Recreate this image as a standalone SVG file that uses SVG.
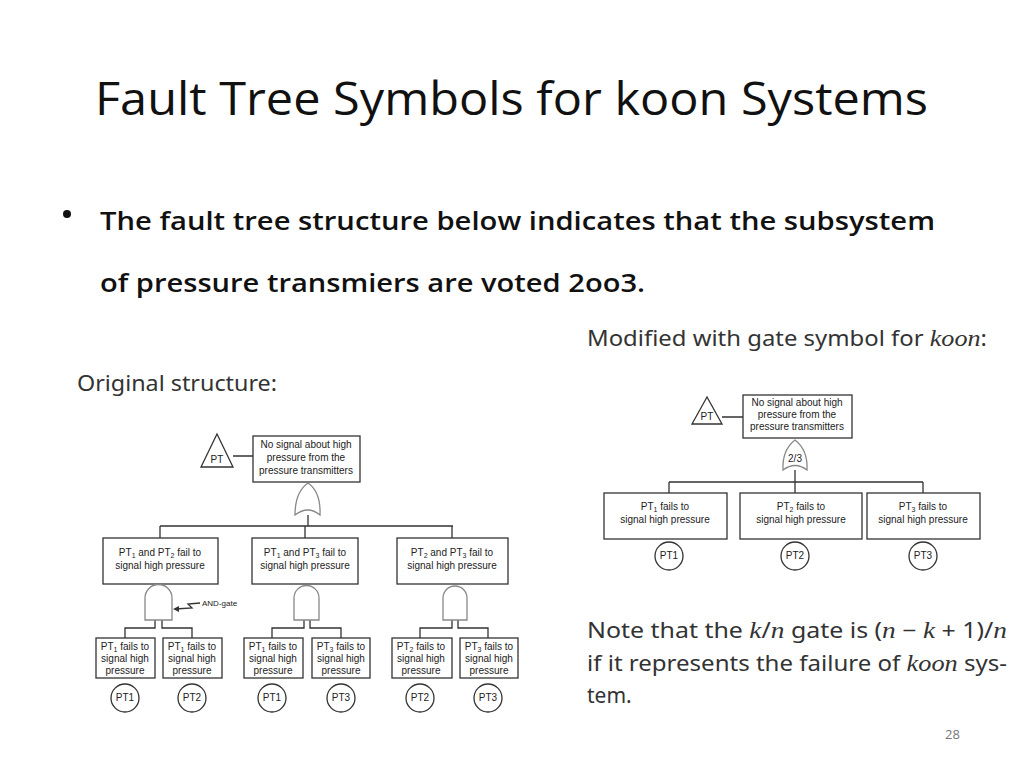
<svg xmlns="http://www.w3.org/2000/svg" width="1024" height="768" viewBox="0 0 1024 768">
<defs>
<style>
.b{fill:#fff;stroke:#333;stroke-width:1.3}
.g{fill:#fff;stroke:#888;stroke-width:1.3}
.l{fill:none;stroke:#333;stroke-width:1.3}
.t{font-family:"Liberation Sans",Arial,sans-serif;font-size:10px;fill:#222;text-anchor:middle}
.s{font-size:7px}
.m{font-family:"Noto Sans","Open Sans",sans-serif;font-size:21px;fill:#333}
.i{font-family:"Liberation Serif",serif;font-style:italic;font-size:23px}
</style>
</defs>
<rect width="1024" height="768" fill="#fff"/>
<text x="95" y="115" font-family="'Open Sans','Noto Sans',sans-serif" font-size="46" fill="#111" textLength="833" lengthAdjust="spacingAndGlyphs">Fault Tree Symbols for koon Systems</text>
<circle cx="67" cy="214" r="4" fill="#111"/>
<g font-family="'Open Sans','Noto Sans',sans-serif" font-size="25" font-weight="600" fill="#111">
<text x="100" y="230" textLength="835" lengthAdjust="spacingAndGlyphs">The fault tree structure below indicates that the subsystem</text>
<text x="100" y="292" textLength="545" lengthAdjust="spacingAndGlyphs">of pressure transmiers are voted 2oo3.</text>
</g>
<text class="m" x="77" y="391" textLength="200" lengthAdjust="spacingAndGlyphs">Original structure:</text>
<text class="m" x="587" y="346" textLength="400" lengthAdjust="spacingAndGlyphs">Modified with gate symbol for <tspan class="i">koon</tspan>:</text>
<text class="m" x="587" y="638" textLength="420" lengthAdjust="spacingAndGlyphs">Note that the <tspan class="i">k</tspan>/<tspan class="i">n</tspan> gate is (<tspan class="i">n</tspan> − <tspan class="i">k</tspan> + 1)/<tspan class="i">n</tspan></text>
<text class="m" x="587" y="671" textLength="420" lengthAdjust="spacingAndGlyphs">if it represents the failure of <tspan class="i">koon</tspan> sys-</text>
<text class="m" x="587" y="703">tem.</text>
<text x="945" y="739" font-family="'Open Sans',sans-serif" font-size="13" fill="#777">28</text>

<g id="connectors">
<path class="l" d="M233 456H253 M308 515V526 M160 526H453 M160 526V538 M305 526V538 M452 526V538"/>
<path class="l" d="M155 620V628H125V638 M162 620V628H192V638"/>
<path class="l" d="M304 620V628H272V638 M310 620V628H341V638"/>
<path class="l" d="M452 620V628H420V638 M458 620V628H488V638"/>
<path class="l" d="M722 417H743 M795 470V482 M669 482H923 M669 482V493 M795 482V493 M923 482V493"/>
<path class="l" d="M200 603L188 604L192 608L175 609" stroke-width="0.9"/>
<path d="M173 609L179 606L179 612Z" fill="#333"/>
</g>

<g id="left-top">
<path class="b" d="M217 434L233 467H201Z"/><text class="t" x="217" y="463" font-size="9">PT</text>
<rect class="b" x="253" y="436" width="107" height="46"/>
<text class="t" x="306" y="448">No signal about high</text>
<text class="t" x="306" y="461">pressure from the</text>
<text class="t" x="306" y="474">pressure transmitters</text>
</g>
<g id="or-gate"><path class="g" d="M295 515Q295 492 308 483Q321 492 320 515Q308 505 295 515Z"/></g>
<g id="mid1"><rect class="b" x="103" y="538" width="115" height="46"/>
<text class="t" x="160" y="556">PT<tspan class="s" dy="2">1</tspan><tspan dy="-2"> and PT</tspan><tspan class="s" dy="2">2</tspan><tspan dy="-2"> fail to</tspan></text>
<text class="t" x="160" y="569">signal high pressure</text></g>
<g id="mid2"><rect class="b" x="252" y="538" width="106" height="46"/>
<text class="t" x="305" y="556">PT<tspan class="s" dy="2">1</tspan><tspan dy="-2"> and PT</tspan><tspan class="s" dy="2">3</tspan><tspan dy="-2"> fail to</tspan></text>
<text class="t" x="305" y="569">signal high pressure</text></g>
<g id="mid3"><rect class="b" x="397" y="538" width="111" height="46"/>
<text class="t" x="452" y="556">PT<tspan class="s" dy="2">2</tspan><tspan dy="-2"> and PT</tspan><tspan class="s" dy="2">3</tspan><tspan dy="-2"> fail to</tspan></text>
<text class="t" x="452" y="569">signal high pressure</text></g>
<g id="and-gates">
<path class="g" d="M145 620V598A13.5 13.5 0 0 1 172 598V620Z"/>
<path class="g" d="M294 620V598A12.5 12.5 0 0 1 319 598V620Z"/>
<path class="g" d="M443 620V598A12 12 0 0 1 467 598V620Z"/>
<text x="202" y="606" font-family="'Liberation Sans',sans-serif" font-size="8" fill="#222">AND-gate</text>
</g>
<g id="leaves" class="t">
<rect class="b" x="96" y="638" width="59" height="40"/><text x="125" y="650">PT<tspan class="s" dy="2">1</tspan><tspan dy="-2"> fails to</tspan></text><text x="125" y="662">signal high</text><text x="125" y="674">pressure</text>
<rect class="b" x="163" y="638" width="59" height="40"/><text x="192" y="650">PT<tspan class="s" dy="2">1</tspan><tspan dy="-2"> fails to</tspan></text><text x="192" y="662">signal high</text><text x="192" y="674">pressure</text>
<rect class="b" x="244" y="638" width="59" height="40"/><text x="273" y="650">PT<tspan class="s" dy="2">1</tspan><tspan dy="-2"> fails to</tspan></text><text x="273" y="662">signal high</text><text x="273" y="674">pressure</text>
<rect class="b" x="312" y="638" width="58" height="40"/><text x="341" y="650">PT<tspan class="s" dy="2">3</tspan><tspan dy="-2"> fails to</tspan></text><text x="341" y="662">signal high</text><text x="341" y="674">pressure</text>
<rect class="b" x="392" y="638" width="60" height="40"/><text x="421" y="650">PT<tspan class="s" dy="2">2</tspan><tspan dy="-2"> fails to</tspan></text><text x="421" y="662">signal high</text><text x="421" y="674">pressure</text>
<rect class="b" x="460" y="638" width="58" height="40"/><text x="489" y="650">PT<tspan class="s" dy="2">3</tspan><tspan dy="-2"> fails to</tspan></text><text x="489" y="662">signal high</text><text x="489" y="674">pressure</text>
</g>
<g id="basic-left" class="t">
<circle class="b" cx="125" cy="698" r="14"/><text x="125" y="701">PT1</text>
<circle class="b" cx="192" cy="698" r="14"/><text x="192" y="701">PT2</text>
<circle class="b" cx="272" cy="698" r="14"/><text x="272" y="701">PT1</text>
<circle class="b" cx="341" cy="698" r="14"/><text x="341" y="701">PT3</text>
<circle class="b" cx="420" cy="698" r="14"/><text x="420" y="701">PT2</text>
<circle class="b" cx="488" cy="698" r="14"/><text x="488" y="701">PT3</text>
</g>

<g id="right-top">
<path class="b" d="M707 397L722 424H692Z"/><text class="t" x="707" y="420" font-size="9">PT</text>
<rect class="b" x="743" y="395" width="109" height="43"/>
<text class="t" x="797" y="406">No signal about high</text>
<text class="t" x="797" y="418">pressure from the</text>
<text class="t" x="797" y="430">pressure transmitters</text>
</g>
<g id="koon-gate"><path class="g" d="M783 470Q782 450 795 440Q808 450 807 470Q795 461 783 470Z"/><text class="t" x="795" y="462">2/3</text></g>
<g id="right-mid" class="t">
<rect class="b" x="604" y="493" width="123" height="46"/><text x="665" y="510">PT<tspan class="s" dy="2">1</tspan><tspan dy="-2"> fails to</tspan></text><text x="665" y="523">signal high pressure</text>
<rect class="b" x="740" y="493" width="122" height="46"/><text x="801" y="510">PT<tspan class="s" dy="2">2</tspan><tspan dy="-2"> fails to</tspan></text><text x="801" y="523">signal high pressure</text>
<rect class="b" x="867" y="493" width="113" height="46"/><text x="923" y="510">PT<tspan class="s" dy="2">3</tspan><tspan dy="-2"> fails to</tspan></text><text x="923" y="523">signal high pressure</text>
</g>
<g id="basic-right" class="t">
<circle class="b" cx="669" cy="556" r="14"/><text x="669" y="559">PT1</text>
<circle class="b" cx="795" cy="556" r="14"/><text x="795" y="559">PT2</text>
<circle class="b" cx="923" cy="556" r="14"/><text x="923" y="559">PT3</text>
</g>
</svg>
